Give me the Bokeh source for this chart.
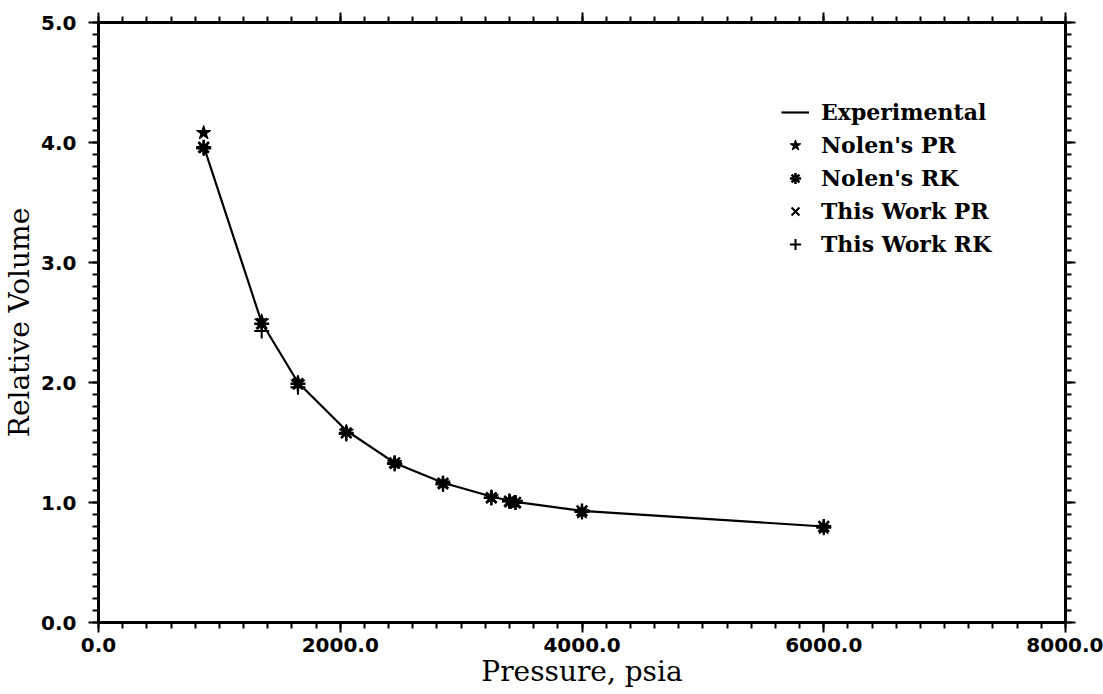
from bokeh.plotting import figure
from bokeh.models import (LinearAxis, FixedTicker, PrintfTickFormatter,
                          CustomJSTickFormatter, Legend, LegendItem, Range1d)
from bokeh.embed import file_html
from bokeh.resources import INLINE

# ---- data ----
pressure = [870, 1350, 1650, 2050, 2450, 2850, 3250, 3400, 3450, 4000, 6000]
experimental = [3.97, 2.50, 2.00, 1.60, 1.33, 1.165, 1.05, 1.015, 1.005, 0.93, 0.80]
nolen_pr = [4.08, 2.51, 2.00, 1.59, 1.33, 1.16, 1.045, 1.01, 1.00, 0.92, 0.79]
nolen_rk = [3.96, 2.49, 1.99, 1.58, 1.33, 1.16, 1.04, 1.01, 1.00, 0.93, 0.80]
this_pr = [3.95, 2.48, 1.98, 1.58, 1.32, 1.16, 1.04, 1.01, 1.00, 0.92, 0.79]
this_rk = [3.95, 2.43, 1.96, 1.57, 1.32, 1.15, 1.04, 1.01, 1.00, 0.92, 0.79]

x_major = [0, 2000, 4000, 6000, 8000]
x_minor = list(range(0, 8001, 200))
y_major = [0, 1, 2, 3, 4, 5]
y_minor = [i / 10 for i in range(0, 51)]

TICK_FONT = "DejaVu Sans"
TITLE_FONT = "DejaVu Serif"

p = figure(width=1103, height=694, x_range=Range1d(0, 8000), y_range=Range1d(0, 5),
           output_backend="svg", toolbar_location=None,
           x_axis_location=None, y_axis_location=None,
           min_border_left=97, min_border_right=38, min_border_top=22, min_border_bottom=72)
p.grid.visible = False
p.outline_line_color = None
p.background_fill_color = "white"
p.border_fill_color = "white"


def style(ax, labels=True):
    ax.axis_line_width = 3
    ax.axis_line_color = "black"
    ax.major_tick_line_width = 2
    ax.minor_tick_line_width = 2
    ax.major_tick_line_color = "black"
    ax.minor_tick_line_color = "black"
    ax.major_tick_out = 10
    ax.major_tick_in = 0
    ax.minor_tick_out = 6
    ax.minor_tick_in = 0
    if labels:
        ax.formatter = PrintfTickFormatter(format="%.1f")
        ax.major_label_text_font = TICK_FONT
        ax.major_label_text_font_style = "bold"
        ax.major_label_text_font_size = "20px"
        ax.major_label_text_color = "black"
    else:
        ax.formatter = CustomJSTickFormatter(code="return ''")
        ax.major_label_text_font_size = "1px"
        ax.major_label_standoff = 0


xb = LinearAxis(ticker=FixedTicker(ticks=x_major, minor_ticks=x_minor))
style(xb)
xb.major_label_standoff = 5
xb.axis_label = "Pressure, psia"
xb.axis_label_text_font = TITLE_FONT
xb.axis_label_text_font_size = "28px"
xb.axis_label_text_font_style = "normal"
xb.axis_label_text_color = "black"
xb.axis_label_standoff = 0
p.add_layout(xb, "below")

xt = LinearAxis(ticker=FixedTicker(ticks=x_major, minor_ticks=x_minor))
style(xt, labels=False)
p.add_layout(xt, "above")

yl = LinearAxis(ticker=FixedTicker(ticks=y_major, minor_ticks=y_minor))
style(yl)
yl.major_label_standoff = 12
yl.axis_label = "Relative Volume"
yl.axis_label_text_font = TITLE_FONT
yl.axis_label_text_font_size = "28px"
yl.axis_label_text_font_style = "normal"
yl.axis_label_text_color = "black"
yl.axis_label_standoff = 2
p.add_layout(yl, "left")

yr = LinearAxis(ticker=FixedTicker(ticks=y_major, minor_ticks=y_minor))
style(yr, labels=False)
p.add_layout(yr, "right")

# ---- glyphs ----
r_exp = p.line(pressure, experimental, line_color="black", line_width=2.2)
r_rk_plus = p.scatter(pressure, this_rk, marker="cross", size=15, line_color="black", line_width=2)
r_pr_x = p.scatter(pressure, this_pr, marker="x", size=12, line_color="black", line_width=2)
r_nrk = p.scatter(pressure, nolen_rk, marker="asterisk", size=15, line_color="black", line_width=2.5)
r_npr = p.scatter(pressure, nolen_pr, marker="star", size=15, line_color="black",
                  fill_color="black", line_width=1)

legend = Legend(items=[
    LegendItem(label="Experimental", renderers=[r_exp]),
    LegendItem(label="Nolen's PR", renderers=[r_npr]),
    LegendItem(label="Nolen's RK", renderers=[r_nrk]),
    LegendItem(label="This Work PR", renderers=[r_pr_x]),
    LegendItem(label="This Work RK", renderers=[r_rk_plus]),
], location=(683, 363))
legend.border_line_color = None
legend.background_fill_alpha = 0
legend.label_text_font = TITLE_FONT
legend.label_text_font_style = "bold"
legend.label_text_font_size = "22px"
legend.label_text_color = "black"
legend.label_height = 30
legend.glyph_width = 28
legend.glyph_height = 30
legend.spacing = 3
legend.label_standoff = 12
legend.padding = 4
p.add_layout(legend)

open("out.html", "w").write(file_html(p, INLINE))
